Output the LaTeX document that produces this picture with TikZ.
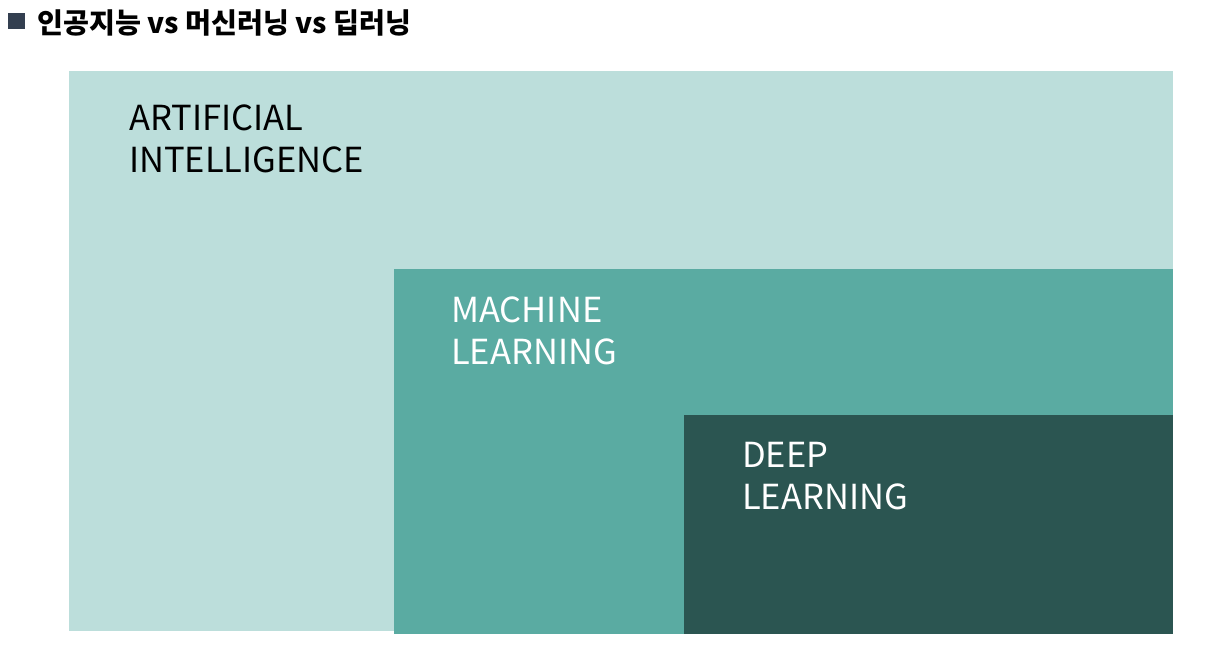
\documentclass[tikz,border=0pt]{standalone}
\usepackage{fontspec}
\setmainfont{Noto Sans CJK KR}
\definecolor{aiC}{HTML}{BCDEDB}
\definecolor{mlC}{HTML}{5AABA2}
\definecolor{dlC}{HTML}{2B5551}
\definecolor{bulletC}{HTML}{333F50}
\begin{document}
\begin{tikzpicture}[x=1pt,y=-1pt,
  area/.style={fill=#1,draw=none},
  lbl/.style={anchor=base west,inner sep=0pt,align=left,font=\fontsize{34.5}{42}\selectfont,text=#1}]
\useasboundingbox (0,0) rectangle (1208,653);
\fill[white] (0,0) rectangle (1208,653);
\fill[bulletC] (8,13) rectangle (25,29);
\node[anchor=base west,inner sep=0pt,font=\fontsize{28.2}{32}\selectfont\bfseries] (title) at (37,33) {인공지능 vs 머신러닝 vs 딥러닝};
\path[area=aiC] (69,71) rectangle (1173,631);
\path[area=mlC] (394,269) rectangle (1173,634);
\path[area=dlC] (684,415) rectangle (1173,634);
\node[lbl=black] (ai) at (129,172) {ARTIFICIAL\\INTELLIGENCE};
\node[lbl=white] (ml) at (451,364) {MACHINE\\LEARNING};
\node[lbl=white] (dl) at (742,509) {DEEP\\LEARNING};
\end{tikzpicture}
\end{document}
